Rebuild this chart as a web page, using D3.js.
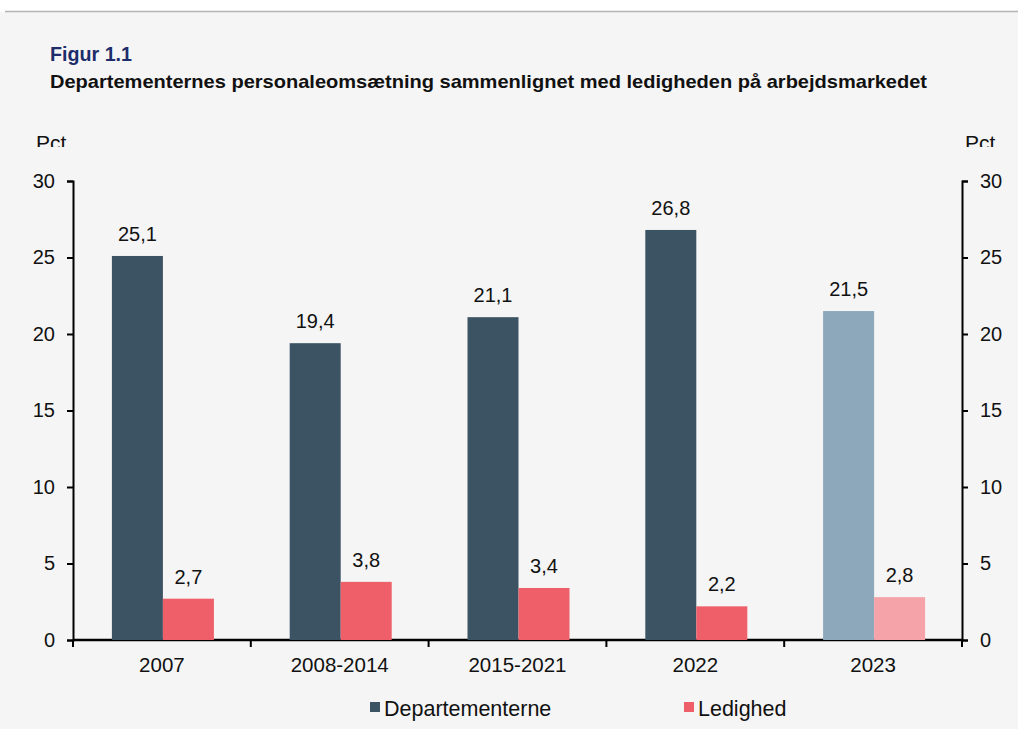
<!DOCTYPE html>
<html>
<head>
<meta charset="utf-8">
<script src="https://cdn.jsdelivr.net/npm/d3@7"></script>
<style>
  body { margin: 0; background: #ffffff; }
  svg { display: block; font-family: "Liberation Sans", Arial, sans-serif; }
</style>
</head>
<body>
<div id="chart"></div>
<script>
// chart data
const categories = ["2007", "2008-2014", "2015-2021", "2022", "2023"];
const departementerne = [25.1, 19.4, 21.1, 26.8, 21.5];
const ledighed = [2.7, 3.8, 3.4, 2.2, 2.8];
const yTicks = [0, 5, 10, 15, 20, 25, 30];
const seriesNames = ["Departementerne", "Ledighed"];

const width = 1018, height = 729;
const margin = {top: 181, right: 56, bottom: 89, left: 73};
const innerW = width - margin.left - margin.right;
const innerH = height - margin.top - margin.bottom;

// normal colours, and the paler ones for the last (2023) group
const darkColor = ["#3c5364", "#8ca8ba"];
const redColor = ["#ee5f6a", "#f5a3a8"];

const svg = d3.select("#chart").append("svg")
    .attr("width", width)
    .attr("height", height);

// panel background + top rule
svg.append("rect")
    .attr("x", 0).attr("y", 12)
    .attr("width", width).attr("height", height - 12)
    .attr("fill", "#f5f5f5");
svg.append("line")
    .attr("x1", 5).attr("x2", width)
    .attr("y1", 11.5).attr("y2", 11.5)
    .attr("stroke", "#b4b4b4").attr("stroke-width", 1.5);

// titles
svg.append("text")
    .attr("x", 50).attr("y", 61)
    .attr("fill", "#1d2d6b")
    .style("font-size", "20px")
    .style("font-weight", "bold")
    .attr("textLength", 82)
    .attr("lengthAdjust", "spacingAndGlyphs")
    .text("Figur 1.1");
svg.append("text")
    .attr("x", 50).attr("y", 88)
    .attr("fill", "#111")
    .style("font-size", "18.5px")
    .style("font-weight", "bold")
    .attr("textLength", 877)
    .attr("lengthAdjust", "spacingAndGlyphs")
    .text("Departementernes personaleomsætning sammenlignet med ledigheden på arbejdsmarkedet");

// "Pct" labels, clipped at the bottom like the original
svg.append("clipPath").attr("id", "pctClip")
    .append("rect").attr("x", 0).attr("y", 120).attr("width", width).attr("height", 27);
svg.selectAll(".pct")
    .data([36, 965])
    .enter().append("text")
    .attr("class", "pct")
    .attr("x", d => d).attr("y", 150)
    .attr("clip-path", "url(#pctClip)")
    .style("font-size", "21px")
    .attr("fill", "#111")
    .text("Pct");

const g = svg.append("g")
    .attr("transform", `translate(${margin.left},${margin.top})`);

// scales
const x = d3.scaleBand().domain(categories).range([0, innerW]);
const y = d3.scaleLinear().domain([0, 30]).range([innerH, 0]);
const barW = 51;

// axes
const yLeft = d3.axisLeft(y).tickValues(yTicks).tickSize(6);
const yRight = d3.axisRight(y).tickValues(yTicks).tickSize(6);

const gl = g.append("g").call(yLeft);
const gr = g.append("g").attr("transform", `translate(${innerW},0)`).call(yRight);
[gl, gr].forEach(a => {
    a.select(".domain").attr("stroke", "#000").attr("stroke-width", 2);
    a.selectAll(".tick line").attr("stroke", "#000").attr("stroke-width", 2);
    a.selectAll(".tick text")
        .style("font-size", "20px")
        .style("font-family", "Liberation Sans, Arial, sans-serif")
        .attr("fill", "#111");
});
gl.selectAll(".tick text").attr("x", -18);
gr.selectAll(".tick text").attr("x", 18);

// x axis: line with ticks at category boundaries
const xAxisG = g.append("g").attr("transform", `translate(0,${innerH})`);
xAxisG.append("line")
    .attr("x1", 0).attr("x2", innerW)
    .attr("stroke", "#000").attr("stroke-width", 2.5);
const bounds = categories.map(c => x(c)).concat([innerW]);
xAxisG.selectAll(".xtick")
    .data(bounds)
    .enter().append("line")
    .attr("class", "xtick")
    .attr("x1", d => d).attr("x2", d => d)
    .attr("y1", 0).attr("y2", 7)
    .attr("stroke", "#000").attr("stroke-width", 2);
xAxisG.selectAll(".xlabel")
    .data(categories)
    .enter().append("text")
    .attr("class", "xlabel")
    .attr("x", d => x(d) + x.bandwidth() / 2)
    .attr("y", 32)
    .attr("text-anchor", "middle")
    .style("font-size", "20.5px")
    .attr("fill", "#111")
    .text(d => d);

// bars
const fmt = v => d3.format(".1f")(v).replace(".", ",");
const data = categories.map((c, i) => ({cat: c, dep: departementerne[i], led: ledighed[i], light: i === categories.length - 1 ? 1 : 0}));

const groups = g.selectAll(".grp")
    .data(data)
    .enter().append("g")
    .attr("class", "grp")
    .attr("transform", d => `translate(${x(d.cat) + x.bandwidth() / 2 + 1},0)`);

groups.append("rect")
    .attr("x", -barW)
    .attr("width", barW)
    .attr("y", d => y(d.dep))
    .attr("height", d => innerH - y(d.dep))
    .attr("fill", d => darkColor[d.light]);
groups.append("rect")
    .attr("x", 0)
    .attr("width", barW)
    .attr("y", d => y(d.led))
    .attr("height", d => innerH - y(d.led))
    .attr("fill", d => redColor[d.light]);

groups.append("text")
    .attr("x", -barW / 2)
    .attr("y", d => y(d.dep) - 15)
    .attr("text-anchor", "middle")
    .style("font-size", "20px")
    .attr("fill", "#111")
    .text(d => fmt(d.dep));
groups.append("text")
    .attr("x", barW / 2)
    .attr("y", d => y(d.led) - 15)
    .attr("text-anchor", "middle")
    .style("font-size", "20px")
    .attr("fill", "#111")
    .text(d => fmt(d.led));

// legend
const legendX = [370, 684];
const legend = svg.selectAll(".legend")
    .data(seriesNames)
    .enter().append("g")
    .attr("class", "legend")
    .attr("transform", (d, i) => `translate(${legendX[i]},702)`);
legend.append("rect")
    .attr("width", 10).attr("height", 10)
    .attr("fill", (d, i) => i === 0 ? darkColor[0] : redColor[0]);
legend.append("text")
    .attr("x", 14).attr("y", 14)
    .style("font-size", "21.5px")
    .attr("fill", "#111")
    .text(d => d);
</script>
</body>
</html>
